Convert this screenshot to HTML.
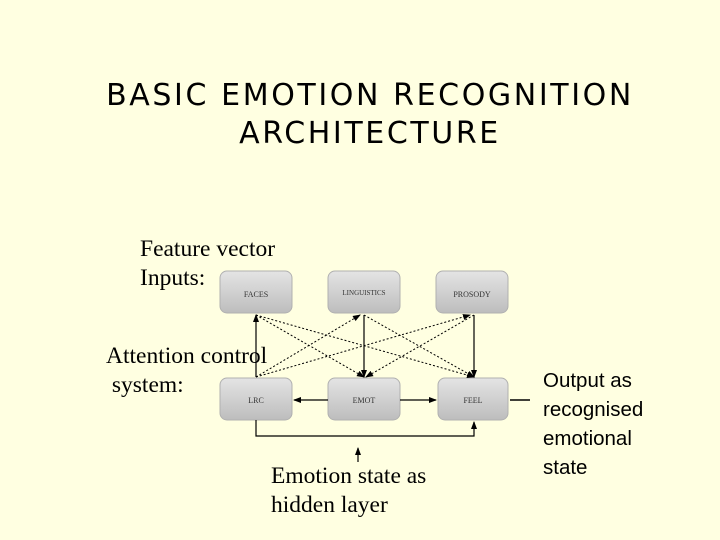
<!DOCTYPE html>
<html><head><style>
body{margin:0;width:720px;height:540px;background:#ffffe1;position:relative;overflow:hidden;font-family:"Liberation Serif",serif;}
.t{position:absolute;left:0;width:740px;text-align:center;font-family:"DejaVu Sans","Liberation Sans",sans-serif;font-size:30px;color:#000;letter-spacing:2.6px;}
.l{position:absolute;font-size:23.5px;line-height:29px;color:#000;white-space:nowrap}
.a{font-family:"Liberation Sans",sans-serif;font-size:20.5px;line-height:29px}
</style></head><body>
<div class="t" style="top:78px">BASIC EMOTION RECOGNITION</div>
<div class="t" style="top:116px">ARCHITECTURE</div>
<div class="l" style="left:140px;top:235px">Feature vector<br>Inputs:</div>
<div class="l" style="left:106px;top:342px">Attention control<br>&nbsp;system:</div>
<div class="l" style="left:271px;top:462px">Emotion state as<br>hidden layer</div>
<div class="l a" style="left:543px;top:366px">Output as<br>recognised<br>emotional<br>state</div>
<svg width="720" height="540" style="position:absolute;left:0;top:0">
<defs>
<linearGradient id="g" x1="0" y1="0" x2="0" y2="1"><stop offset="0" stop-color="#e4e4e4"/><stop offset="1" stop-color="#bdbdbd"/></linearGradient>
<marker id="m" markerWidth="8" markerHeight="8" refX="7" refY="4" orient="auto" markerUnits="userSpaceOnUse"><path d="M0,1 L8,4 L0,7z" fill="#000"/></marker>
</defs>
<g fill="url(#g)" stroke="#b0b0b0">
<rect x="220" y="271" width="72" height="42" rx="7"/>
<rect x="328" y="271" width="72" height="42" rx="7"/>
<rect x="436" y="271" width="72" height="42" rx="7"/>
<rect x="220" y="378" width="72" height="42" rx="7"/>
<rect x="328" y="378" width="72" height="42" rx="7"/>
<rect x="438" y="378" width="70" height="42" rx="7"/>
</g>
<g font-family="Liberation Serif,serif" font-size="8" fill="#333" text-anchor="middle">
<text x="256" y="297">FACES</text><text x="364" y="295" font-size="7">LINGUISTICS</text><text x="472" y="297">PROSODY</text>
<text x="256" y="403">LRC</text><text x="364" y="403">EMOT</text><text x="473" y="403">FEEL</text>
</g>
<g stroke="#000" stroke-width="1" fill="none" stroke-dasharray="2,2" marker-end="url(#m)">
<line x1="256" y1="315" x2="364" y2="377"/>
<line x1="256" y1="315" x2="474" y2="377"/>
<line x1="256" y1="377" x2="360" y2="315"/>
<line x1="256" y1="377" x2="470" y2="315"/>
<line x1="364" y1="315" x2="474" y2="377"/>
<line x1="474" y1="315" x2="366" y2="377"/>
</g>
<g stroke="#000" stroke-width="1.2" fill="none" marker-end="url(#m)">
<line x1="256" y1="377" x2="256" y2="315"/>
<line x1="364" y1="315" x2="364" y2="377"/>
<line x1="474" y1="315" x2="474" y2="377"/>
<line x1="328" y1="400" x2="294" y2="400"/>
<line x1="400" y1="400" x2="436" y2="400"/>
<polyline points="256,420 256,436 474,436 474,422"/>
<line x1="358" y1="462" x2="358" y2="448"/>
</g>
<line x1="510" y1="400" x2="530" y2="400" stroke="#000" stroke-width="1.5"/>
</svg>
</body></html>
